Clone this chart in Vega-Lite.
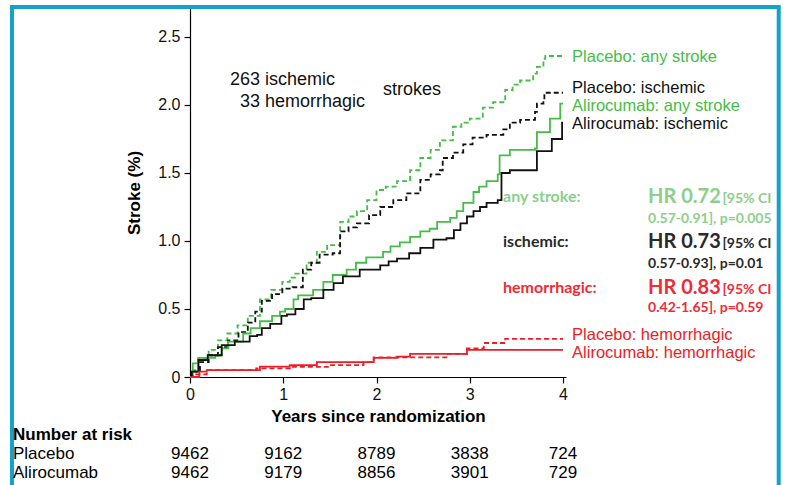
{
  "$schema": "https://vega.github.io/schema/vega-lite/v6.json",
  "autosize": "none",
  "width": 376,
  "height": 369,
  "padding": {"left": 190, "top": 8, "right": 220, "bottom": 108},
  "background": "white",
  "config": {
    "view": {"stroke": null},
    "font": "Liberation Sans",
    "axis": {"grid": false, "domainColor": "#000", "tickColor": "#000", "domainWidth": 1.2, "tickWidth": 1.2, "labelColor": "#111", "titleColor": "#000", "labelFont": "Liberation Sans", "titleFont": "Liberation Sans"}
  },
  "datasets": {
    "curves": [
      {"arm": "Placebo", "outcome": "any stroke", "x": 0, "y": 0},
      {"arm": "Placebo", "outcome": "any stroke", "x": 0.03, "y": 0.05},
      {"arm": "Placebo", "outcome": "any stroke", "x": 0.09, "y": 0.137},
      {"arm": "Placebo", "outcome": "any stroke", "x": 0.2, "y": 0.2},
      {"arm": "Placebo", "outcome": "any stroke", "x": 0.3, "y": 0.27},
      {"arm": "Placebo", "outcome": "any stroke", "x": 0.4, "y": 0.32},
      {"arm": "Placebo", "outcome": "any stroke", "x": 0.51, "y": 0.38},
      {"arm": "Placebo", "outcome": "any stroke", "x": 0.62, "y": 0.45},
      {"arm": "Placebo", "outcome": "any stroke", "x": 0.75, "y": 0.57},
      {"arm": "Placebo", "outcome": "any stroke", "x": 0.87, "y": 0.64},
      {"arm": "Placebo", "outcome": "any stroke", "x": 0.99, "y": 0.7},
      {"arm": "Placebo", "outcome": "any stroke", "x": 1.07, "y": 0.73},
      {"arm": "Placebo", "outcome": "any stroke", "x": 1.13, "y": 0.76},
      {"arm": "Placebo", "outcome": "any stroke", "x": 1.25, "y": 0.84},
      {"arm": "Placebo", "outcome": "any stroke", "x": 1.36, "y": 0.92},
      {"arm": "Placebo", "outcome": "any stroke", "x": 1.47, "y": 0.97},
      {"arm": "Placebo", "outcome": "any stroke", "x": 1.61, "y": 1.14},
      {"arm": "Placebo", "outcome": "any stroke", "x": 1.7, "y": 1.18},
      {"arm": "Placebo", "outcome": "any stroke", "x": 1.79, "y": 1.22},
      {"arm": "Placebo", "outcome": "any stroke", "x": 1.9, "y": 1.3},
      {"arm": "Placebo", "outcome": "any stroke", "x": 2.0, "y": 1.375},
      {"arm": "Placebo", "outcome": "any stroke", "x": 2.1, "y": 1.4},
      {"arm": "Placebo", "outcome": "any stroke", "x": 2.22, "y": 1.44},
      {"arm": "Placebo", "outcome": "any stroke", "x": 2.36, "y": 1.52},
      {"arm": "Placebo", "outcome": "any stroke", "x": 2.47, "y": 1.61},
      {"arm": "Placebo", "outcome": "any stroke", "x": 2.58, "y": 1.67},
      {"arm": "Placebo", "outcome": "any stroke", "x": 2.68, "y": 1.74},
      {"arm": "Placebo", "outcome": "any stroke", "x": 2.82, "y": 1.84},
      {"arm": "Placebo", "outcome": "any stroke", "x": 2.91, "y": 1.87},
      {"arm": "Placebo", "outcome": "any stroke", "x": 3.0, "y": 1.9},
      {"arm": "Placebo", "outcome": "any stroke", "x": 3.14, "y": 1.98},
      {"arm": "Placebo", "outcome": "any stroke", "x": 3.25, "y": 2.02},
      {"arm": "Placebo", "outcome": "any stroke", "x": 3.38, "y": 2.11},
      {"arm": "Placebo", "outcome": "any stroke", "x": 3.46, "y": 2.15},
      {"arm": "Placebo", "outcome": "any stroke", "x": 3.54, "y": 2.18},
      {"arm": "Placebo", "outcome": "any stroke", "x": 3.68, "y": 2.23},
      {"arm": "Placebo", "outcome": "any stroke", "x": 3.72, "y": 2.28},
      {"arm": "Placebo", "outcome": "any stroke", "x": 3.79, "y": 2.34},
      {"arm": "Placebo", "outcome": "any stroke", "x": 3.81, "y": 2.36},
      {"arm": "Placebo", "outcome": "any stroke", "x": 4.0, "y": 2.36},

      {"arm": "Placebo", "outcome": "ischemic", "x": 0, "y": 0},
      {"arm": "Placebo", "outcome": "ischemic", "x": 0.03, "y": 0.04},
      {"arm": "Placebo", "outcome": "ischemic", "x": 0.107, "y": 0.11},
      {"arm": "Placebo", "outcome": "ischemic", "x": 0.2, "y": 0.16},
      {"arm": "Placebo", "outcome": "ischemic", "x": 0.3, "y": 0.22},
      {"arm": "Placebo", "outcome": "ischemic", "x": 0.41, "y": 0.27},
      {"arm": "Placebo", "outcome": "ischemic", "x": 0.52, "y": 0.33},
      {"arm": "Placebo", "outcome": "ischemic", "x": 0.62, "y": 0.4},
      {"arm": "Placebo", "outcome": "ischemic", "x": 0.7, "y": 0.48},
      {"arm": "Placebo", "outcome": "ischemic", "x": 0.77, "y": 0.56},
      {"arm": "Placebo", "outcome": "ischemic", "x": 0.88, "y": 0.61},
      {"arm": "Placebo", "outcome": "ischemic", "x": 0.99, "y": 0.65},
      {"arm": "Placebo", "outcome": "ischemic", "x": 1.1, "y": 0.66},
      {"arm": "Placebo", "outcome": "ischemic", "x": 1.21, "y": 0.79},
      {"arm": "Placebo", "outcome": "ischemic", "x": 1.3, "y": 0.84},
      {"arm": "Placebo", "outcome": "ischemic", "x": 1.39, "y": 0.9},
      {"arm": "Placebo", "outcome": "ischemic", "x": 1.53, "y": 0.91},
      {"arm": "Placebo", "outcome": "ischemic", "x": 1.61, "y": 1.07},
      {"arm": "Placebo", "outcome": "ischemic", "x": 1.7, "y": 1.1},
      {"arm": "Placebo", "outcome": "ischemic", "x": 1.79, "y": 1.13},
      {"arm": "Placebo", "outcome": "ischemic", "x": 1.92, "y": 1.19},
      {"arm": "Placebo", "outcome": "ischemic", "x": 2.04, "y": 1.25},
      {"arm": "Placebo", "outcome": "ischemic", "x": 2.18, "y": 1.3},
      {"arm": "Placebo", "outcome": "ischemic", "x": 2.32, "y": 1.35},
      {"arm": "Placebo", "outcome": "ischemic", "x": 2.47, "y": 1.45},
      {"arm": "Placebo", "outcome": "ischemic", "x": 2.58, "y": 1.49},
      {"arm": "Placebo", "outcome": "ischemic", "x": 2.68, "y": 1.52},
      {"arm": "Placebo", "outcome": "ischemic", "x": 2.71, "y": 1.61},
      {"arm": "Placebo", "outcome": "ischemic", "x": 2.82, "y": 1.65},
      {"arm": "Placebo", "outcome": "ischemic", "x": 2.93, "y": 1.71},
      {"arm": "Placebo", "outcome": "ischemic", "x": 3.03, "y": 1.76},
      {"arm": "Placebo", "outcome": "ischemic", "x": 3.18, "y": 1.78},
      {"arm": "Placebo", "outcome": "ischemic", "x": 3.36, "y": 1.82},
      {"arm": "Placebo", "outcome": "ischemic", "x": 3.43, "y": 1.87},
      {"arm": "Placebo", "outcome": "ischemic", "x": 3.54, "y": 1.89},
      {"arm": "Placebo", "outcome": "ischemic", "x": 3.7, "y": 1.95},
      {"arm": "Placebo", "outcome": "ischemic", "x": 3.72, "y": 2.01},
      {"arm": "Placebo", "outcome": "ischemic", "x": 3.79, "y": 2.02},
      {"arm": "Placebo", "outcome": "ischemic", "x": 3.8, "y": 2.09},
      {"arm": "Placebo", "outcome": "ischemic", "x": 4.0, "y": 2.09},

      {"arm": "Alirocumab", "outcome": "any stroke", "x": 0, "y": 0},
      {"arm": "Alirocumab", "outcome": "any stroke", "x": 0.03, "y": 0.1},
      {"arm": "Alirocumab", "outcome": "any stroke", "x": 0.09, "y": 0.14},
      {"arm": "Alirocumab", "outcome": "any stroke", "x": 0.27, "y": 0.16},
      {"arm": "Alirocumab", "outcome": "any stroke", "x": 0.34, "y": 0.21},
      {"arm": "Alirocumab", "outcome": "any stroke", "x": 0.41, "y": 0.26},
      {"arm": "Alirocumab", "outcome": "any stroke", "x": 0.57, "y": 0.32},
      {"arm": "Alirocumab", "outcome": "any stroke", "x": 0.65, "y": 0.36},
      {"arm": "Alirocumab", "outcome": "any stroke", "x": 0.75, "y": 0.41},
      {"arm": "Alirocumab", "outcome": "any stroke", "x": 0.88, "y": 0.45},
      {"arm": "Alirocumab", "outcome": "any stroke", "x": 0.965, "y": 0.48},
      {"arm": "Alirocumab", "outcome": "any stroke", "x": 1.02, "y": 0.5},
      {"arm": "Alirocumab", "outcome": "any stroke", "x": 1.11, "y": 0.57},
      {"arm": "Alirocumab", "outcome": "any stroke", "x": 1.16, "y": 0.6},
      {"arm": "Alirocumab", "outcome": "any stroke", "x": 1.32, "y": 0.64},
      {"arm": "Alirocumab", "outcome": "any stroke", "x": 1.43, "y": 0.7},
      {"arm": "Alirocumab", "outcome": "any stroke", "x": 1.53, "y": 0.75},
      {"arm": "Alirocumab", "outcome": "any stroke", "x": 1.68, "y": 0.79},
      {"arm": "Alirocumab", "outcome": "any stroke", "x": 1.78, "y": 0.84},
      {"arm": "Alirocumab", "outcome": "any stroke", "x": 1.89, "y": 0.88},
      {"arm": "Alirocumab", "outcome": "any stroke", "x": 2.07, "y": 0.92},
      {"arm": "Alirocumab", "outcome": "any stroke", "x": 2.15, "y": 0.96},
      {"arm": "Alirocumab", "outcome": "any stroke", "x": 2.25, "y": 0.99},
      {"arm": "Alirocumab", "outcome": "any stroke", "x": 2.36, "y": 1.03},
      {"arm": "Alirocumab", "outcome": "any stroke", "x": 2.47, "y": 1.07},
      {"arm": "Alirocumab", "outcome": "any stroke", "x": 2.57, "y": 1.09},
      {"arm": "Alirocumab", "outcome": "any stroke", "x": 2.65, "y": 1.14},
      {"arm": "Alirocumab", "outcome": "any stroke", "x": 2.79, "y": 1.17},
      {"arm": "Alirocumab", "outcome": "any stroke", "x": 2.86, "y": 1.22},
      {"arm": "Alirocumab", "outcome": "any stroke", "x": 2.93, "y": 1.28},
      {"arm": "Alirocumab", "outcome": "any stroke", "x": 3.04, "y": 1.36},
      {"arm": "Alirocumab", "outcome": "any stroke", "x": 3.1, "y": 1.4},
      {"arm": "Alirocumab", "outcome": "any stroke", "x": 3.18, "y": 1.44},
      {"arm": "Alirocumab", "outcome": "any stroke", "x": 3.3, "y": 1.49},
      {"arm": "Alirocumab", "outcome": "any stroke", "x": 3.32, "y": 1.63},
      {"arm": "Alirocumab", "outcome": "any stroke", "x": 3.43, "y": 1.67},
      {"arm": "Alirocumab", "outcome": "any stroke", "x": 3.7, "y": 1.68},
      {"arm": "Alirocumab", "outcome": "any stroke", "x": 3.72, "y": 1.8},
      {"arm": "Alirocumab", "outcome": "any stroke", "x": 3.86, "y": 1.9},
      {"arm": "Alirocumab", "outcome": "any stroke", "x": 3.97, "y": 2.01},
      {"arm": "Alirocumab", "outcome": "any stroke", "x": 4.0, "y": 2.01},

      {"arm": "Alirocumab", "outcome": "ischemic", "x": 0, "y": 0},
      {"arm": "Alirocumab", "outcome": "ischemic", "x": 0.02, "y": 0.04},
      {"arm": "Alirocumab", "outcome": "ischemic", "x": 0.09, "y": 0.125},
      {"arm": "Alirocumab", "outcome": "ischemic", "x": 0.19, "y": 0.16},
      {"arm": "Alirocumab", "outcome": "ischemic", "x": 0.34, "y": 0.235},
      {"arm": "Alirocumab", "outcome": "ischemic", "x": 0.48, "y": 0.26},
      {"arm": "Alirocumab", "outcome": "ischemic", "x": 0.64, "y": 0.3},
      {"arm": "Alirocumab", "outcome": "ischemic", "x": 0.72, "y": 0.31},
      {"arm": "Alirocumab", "outcome": "ischemic", "x": 0.77, "y": 0.36},
      {"arm": "Alirocumab", "outcome": "ischemic", "x": 0.86, "y": 0.39},
      {"arm": "Alirocumab", "outcome": "ischemic", "x": 0.98, "y": 0.45},
      {"arm": "Alirocumab", "outcome": "ischemic", "x": 1.04, "y": 0.46},
      {"arm": "Alirocumab", "outcome": "ischemic", "x": 1.13, "y": 0.5},
      {"arm": "Alirocumab", "outcome": "ischemic", "x": 1.22, "y": 0.57},
      {"arm": "Alirocumab", "outcome": "ischemic", "x": 1.3, "y": 0.58},
      {"arm": "Alirocumab", "outcome": "ischemic", "x": 1.43, "y": 0.64},
      {"arm": "Alirocumab", "outcome": "ischemic", "x": 1.54, "y": 0.69},
      {"arm": "Alirocumab", "outcome": "ischemic", "x": 1.64, "y": 0.74},
      {"arm": "Alirocumab", "outcome": "ischemic", "x": 1.82, "y": 0.79},
      {"arm": "Alirocumab", "outcome": "ischemic", "x": 2.04, "y": 0.82},
      {"arm": "Alirocumab", "outcome": "ischemic", "x": 2.13, "y": 0.85},
      {"arm": "Alirocumab", "outcome": "ischemic", "x": 2.22, "y": 0.87},
      {"arm": "Alirocumab", "outcome": "ischemic", "x": 2.35, "y": 0.91},
      {"arm": "Alirocumab", "outcome": "ischemic", "x": 2.47, "y": 0.95},
      {"arm": "Alirocumab", "outcome": "ischemic", "x": 2.61, "y": 1.01},
      {"arm": "Alirocumab", "outcome": "ischemic", "x": 2.75, "y": 1.02},
      {"arm": "Alirocumab", "outcome": "ischemic", "x": 2.83, "y": 1.08},
      {"arm": "Alirocumab", "outcome": "ischemic", "x": 2.9, "y": 1.13},
      {"arm": "Alirocumab", "outcome": "ischemic", "x": 2.97, "y": 1.18},
      {"arm": "Alirocumab", "outcome": "ischemic", "x": 3.04, "y": 1.22},
      {"arm": "Alirocumab", "outcome": "ischemic", "x": 3.11, "y": 1.25},
      {"arm": "Alirocumab", "outcome": "ischemic", "x": 3.18, "y": 1.28},
      {"arm": "Alirocumab", "outcome": "ischemic", "x": 3.3, "y": 1.3},
      {"arm": "Alirocumab", "outcome": "ischemic", "x": 3.34, "y": 1.5},
      {"arm": "Alirocumab", "outcome": "ischemic", "x": 3.43, "y": 1.52},
      {"arm": "Alirocumab", "outcome": "ischemic", "x": 3.72, "y": 1.66},
      {"arm": "Alirocumab", "outcome": "ischemic", "x": 3.88, "y": 1.75},
      {"arm": "Alirocumab", "outcome": "ischemic", "x": 3.99, "y": 1.87},
      {"arm": "Alirocumab", "outcome": "ischemic", "x": 4.0, "y": 1.87},

      {"arm": "Placebo", "outcome": "hemorrhagic", "x": 0, "y": 0},
      {"arm": "Placebo", "outcome": "hemorrhagic", "x": 0.05, "y": 0.02},
      {"arm": "Placebo", "outcome": "hemorrhagic", "x": 0.18, "y": 0.05},
      {"arm": "Placebo", "outcome": "hemorrhagic", "x": 0.71, "y": 0.063},
      {"arm": "Placebo", "outcome": "hemorrhagic", "x": 1.07, "y": 0.075},
      {"arm": "Placebo", "outcome": "hemorrhagic", "x": 1.5, "y": 0.088},
      {"arm": "Placebo", "outcome": "hemorrhagic", "x": 1.86, "y": 0.11},
      {"arm": "Placebo", "outcome": "hemorrhagic", "x": 1.97, "y": 0.145},
      {"arm": "Placebo", "outcome": "hemorrhagic", "x": 2.75, "y": 0.17},
      {"arm": "Placebo", "outcome": "hemorrhagic", "x": 2.97, "y": 0.21},
      {"arm": "Placebo", "outcome": "hemorrhagic", "x": 3.15, "y": 0.25},
      {"arm": "Placebo", "outcome": "hemorrhagic", "x": 3.38, "y": 0.28},
      {"arm": "Placebo", "outcome": "hemorrhagic", "x": 4.0, "y": 0.28},

      {"arm": "Alirocumab", "outcome": "hemorrhagic", "x": 0, "y": 0},
      {"arm": "Alirocumab", "outcome": "hemorrhagic", "x": 0.1, "y": 0.04},
      {"arm": "Alirocumab", "outcome": "hemorrhagic", "x": 0.18, "y": 0.05},
      {"arm": "Alirocumab", "outcome": "hemorrhagic", "x": 0.75, "y": 0.076},
      {"arm": "Alirocumab", "outcome": "hemorrhagic", "x": 1.07, "y": 0.088},
      {"arm": "Alirocumab", "outcome": "hemorrhagic", "x": 1.36, "y": 0.11},
      {"arm": "Alirocumab", "outcome": "hemorrhagic", "x": 1.97, "y": 0.14},
      {"arm": "Alirocumab", "outcome": "hemorrhagic", "x": 2.22, "y": 0.15},
      {"arm": "Alirocumab", "outcome": "hemorrhagic", "x": 2.36, "y": 0.17},
      {"arm": "Alirocumab", "outcome": "hemorrhagic", "x": 2.97, "y": 0.2},
      {"arm": "Alirocumab", "outcome": "hemorrhagic", "x": 4.0, "y": 0.2}
    ],
    "seriesLabels": [
      {"text": "Placebo: any stroke", "outcome": "any stroke", "x": 4.097, "y": 2.353},
      {"text": "Placebo: ischemic", "outcome": "ischemic", "x": 4.097, "y": 2.123},
      {"text": "Alirocumab: any stroke", "outcome": "any stroke", "x": 4.097, "y": 1.995},
      {"text": "Alirocumab: ischemic", "outcome": "ischemic", "x": 4.097, "y": 1.86},
      {"text": "Placebo: hemorrhagic", "outcome": "hemorrhagic", "x": 4.097, "y": 0.309},
      {"text": "Alirocumab: hemorrhagic", "outcome": "hemorrhagic", "x": 4.097, "y": 0.176}
    ],
    "notes": [
      {"text": "263 ischemic", "x": 0.429, "y": 2.184},
      {"text": "33 hemorrhagic", "x": 0.536, "y": 2.022},
      {"text": "strokes", "x": 2.07, "y": 2.11}
    ],
    "risk": [
      {"arm": "Placebo", "x": 0, "y": -0.566, "n": "9462"},
      {"arm": "Placebo", "x": 1, "y": -0.566, "n": "9162"},
      {"arm": "Placebo", "x": 2, "y": -0.566, "n": "8789"},
      {"arm": "Placebo", "x": 3, "y": -0.566, "n": "3838"},
      {"arm": "Placebo", "x": 4, "y": -0.566, "n": "724"},
      {"arm": "Alirocumab", "x": 0, "y": -0.706, "n": "9462"},
      {"arm": "Alirocumab", "x": 1, "y": -0.706, "n": "9179"},
      {"arm": "Alirocumab", "x": 2, "y": -0.706, "n": "8856"},
      {"arm": "Alirocumab", "x": 3, "y": -0.706, "n": "3901"},
      {"arm": "Alirocumab", "x": 4, "y": -0.706, "n": "729"}
    ],
    "riskRows": [
      {"text": "Placebo", "x": -1.898, "y": -0.566},
      {"text": "Alirocumab", "x": -1.898, "y": -0.706}
    ],
    "frame": [
      {"x": -1.909, "xEnd": 6.313, "y": 2.72, "yEnd": -0.95}
    ]
  },
  "encoding": {
    "x": {"field": "x", "type": "quantitative", "scale": {"domain": [0, 4.032], "nice": false, "zero": false},
      "axis": {"values": [0, 1, 2, 3, 4], "format": "d", "tickSize": 6, "labelFontSize": 16, "labelPadding": 3, "labelFlush": false,
        "title": "Years since randomization", "titleFontSize": 17, "titleFontWeight": "bold", "titlePadding": 6}},
    "y": {"field": "y", "type": "quantitative", "scale": {"domain": [0, 2.713], "nice": false, "zero": false},
      "axis": {"values": [0, 0.5, 1, 1.5, 2, 2.5], "labelExpr": "datum.value == 0 ? '0' : format(datum.value, '.1f')", "tickSize": 6, "labelFontSize": 16, "labelPadding": 4, "labelFlush": false,
        "title": "Stroke (%)", "titleFontSize": 17, "titleFontWeight": "bold", "titlePadding": 14}}
  },
  "layer": [
    {
      "data": {"name": "frame"},
      "mark": {"type": "rect", "filled": false, "stroke": "#13a3c9", "strokeWidth": 4, "strokeOpacity": 1, "clip": false},
      "encoding": {
        "x2": {"field": "xEnd"},
        "y2": {"field": "yEnd"}
      }
    },
    {
      "data": {"name": "curves"},
      "mark": {"type": "line", "interpolate": "step-after", "strokeWidth": 1.8},
      "encoding": {
        "color": {"field": "outcome", "type": "nominal", "scale": {"domain": ["any stroke", "ischemic", "hemorrhagic"], "range": ["#46bd46", "#111111", "#ee1c24"]}, "legend": null},
        "strokeDash": {"field": "arm", "type": "nominal", "scale": {"domain": ["Placebo", "Alirocumab"], "range": [[5, 3], [1, 0]]}, "legend": null},
        "order": {"field": "x", "type": "quantitative"}
      }
    },
    {
      "data": {"name": "seriesLabels"},
      "mark": {"type": "text", "align": "left", "baseline": "middle", "fontSize": 16.5, "font": "Liberation Sans"},
      "encoding": {
        "text": {"field": "text"},
        "color": {"field": "outcome", "type": "nominal", "legend": null}
      }
    },
    {
      "data": {"name": "notes"},
      "mark": {"type": "text", "align": "left", "baseline": "middle", "fontSize": 18, "font": "Liberation Sans", "color": "#111"},
      "encoding": {"text": {"field": "text"}}
    },
    {
      "data": {"values": [{"text": "any stroke:", "x": 3.357, "y": 1.324}]},
      "mark": {"type": "text", "align": "left", "baseline": "middle", "fontSize": 16, "font": "Lato", "fontWeight": "bold", "color": "#8ccf8c"},
      "encoding": {"text": {"field": "text"}}
    },
    {
      "data": {"values": [{"text": "HR 0.72", "x": 4.912, "y": 1.324}]},
      "mark": {"type": "text", "align": "left", "baseline": "middle", "fontSize": 20, "font": "Lato", "fontWeight": "bold", "color": "#8ccf8c"},
      "encoding": {"text": {"field": "text"}}
    },
    {
      "data": {"values": [{"text": "[95% CI", "x": 5.71, "y": 1.31}, {"text": "0.57-0.91], p=0.005", "x": 4.912, "y": 1.162}]},
      "mark": {"type": "text", "align": "left", "baseline": "middle", "fontSize": 14, "font": "Lato", "fontWeight": "bold", "color": "#8ccf8c"},
      "encoding": {"text": {"field": "text"}}
    },
    {
      "data": {"values": [{"text": "ischemic:", "x": 3.357, "y": 0.993}]},
      "mark": {"type": "text", "align": "left", "baseline": "middle", "fontSize": 16, "font": "Lato", "fontWeight": "bold", "color": "#2a2a2a"},
      "encoding": {"text": {"field": "text"}}
    },
    {
      "data": {"values": [{"text": "HR 0.73", "x": 4.912, "y": 0.993}]},
      "mark": {"type": "text", "align": "left", "baseline": "middle", "fontSize": 20, "font": "Lato", "fontWeight": "bold", "color": "#2a2a2a"},
      "encoding": {"text": {"field": "text"}}
    },
    {
      "data": {"values": [{"text": "[95% CI", "x": 5.71, "y": 0.979}, {"text": "0.57-0.93], p=0.01", "x": 4.912, "y": 0.831}]},
      "mark": {"type": "text", "align": "left", "baseline": "middle", "fontSize": 14, "font": "Lato", "fontWeight": "bold", "color": "#2a2a2a"},
      "encoding": {"text": {"field": "text"}}
    },
    {
      "data": {"values": [{"text": "hemorrhagic:", "x": 3.357, "y": 0.654}]},
      "mark": {"type": "text", "align": "left", "baseline": "middle", "fontSize": 16, "font": "Lato", "fontWeight": "bold", "color": "#ef2b36"},
      "encoding": {"text": {"field": "text"}}
    },
    {
      "data": {"values": [{"text": "HR 0.83", "x": 4.912, "y": 0.654}]},
      "mark": {"type": "text", "align": "left", "baseline": "middle", "fontSize": 20, "font": "Lato", "fontWeight": "bold", "color": "#ef2b36"},
      "encoding": {"text": {"field": "text"}}
    },
    {
      "data": {"values": [{"text": "[95% CI", "x": 5.71, "y": 0.64}, {"text": "0.42-1.65], p=0.59", "x": 4.912, "y": 0.507}]},
      "mark": {"type": "text", "align": "left", "baseline": "middle", "fontSize": 14, "font": "Lato", "fontWeight": "bold", "color": "#ef2b36"},
      "encoding": {"text": {"field": "text"}}
    },
    {
      "data": {"values": [{"text": "Number at risk", "x": -1.898, "y": -0.426}]},
      "mark": {"type": "text", "align": "left", "baseline": "middle", "fontSize": 17, "font": "Liberation Sans", "fontWeight": "bold", "color": "#000"},
      "encoding": {"text": {"field": "text"}}
    },
    {
      "data": {"name": "riskRows"},
      "mark": {"type": "text", "align": "left", "baseline": "middle", "fontSize": 17, "font": "Liberation Sans", "color": "#000"},
      "encoding": {"text": {"field": "text"}}
    },
    {
      "data": {"name": "risk"},
      "mark": {"type": "text", "align": "center", "baseline": "middle", "fontSize": 17, "font": "Liberation Sans", "color": "#000"},
      "encoding": {"text": {"field": "n"}}
    }
  ]
}
